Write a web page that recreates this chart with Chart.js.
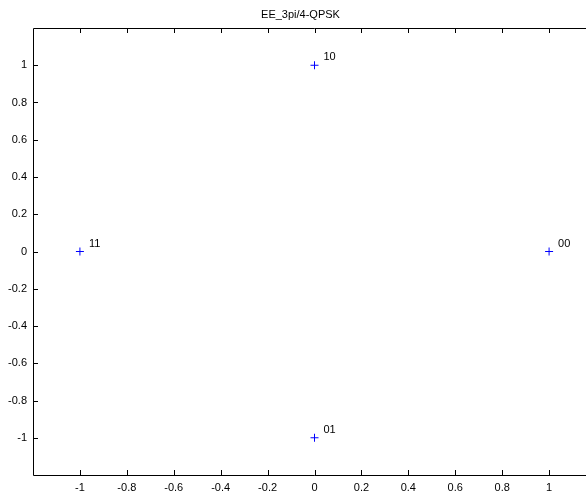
<!DOCTYPE html>
<html>
<head>
<meta charset="utf-8">
<script src="https://cdn.jsdelivr.net/npm/chart.js@4"></script>
<style>
  html, body { margin: 0; padding: 0; background: #fff; overflow: hidden; }
  canvas { display: block; }
</style>
</head>
<body>
<canvas id="myChart" width="601" height="492"></canvas>
<script>
// constellation points
var xs = [1, 0, -1, 0];
var ys = [0, 1, 0, -1];
var symbols = ['00', '10', '11', '01'];
var axisTicks = [-1, -0.8, -0.6, -0.4, -0.2, 0, 0.2, 0.4, 0.6, 0.8, 1];

var font = { family: 'Liberation Sans, Arial, sans-serif', size: 11 };

var points = [];
for (var i = 0; i < xs.length; i++) {
    points.push({ x: xs[i], y: ys[i] });
}

function keepTicks(scale) {
    scale.ticks = axisTicks.map(function (v) { return { value: v }; });
}

// frame, inward ticks and point labels
var framePlugin = {
    id: 'frame',
    afterDraw: function (chart) {
        var c = chart.ctx, a = chart.chartArea;
        var sx = chart.scales.x, sy = chart.scales.y;
        var t = 5;
        c.save();
        c.strokeStyle = '#000';
        c.lineWidth = 1;
        c.beginPath();
        c.moveTo(a.left + 0.5, a.bottom + 0.5);
        c.lineTo(a.left + 0.5, a.top + 0.5);
        c.lineTo(a.right, a.top + 0.5);
        c.moveTo(a.left + 0.5, a.bottom + 0.5);
        c.lineTo(a.right, a.bottom + 0.5);
        axisTicks.forEach(function (v) {
            var px = Math.round(sx.getPixelForValue(v)) + 0.5;
            c.moveTo(px, a.bottom); c.lineTo(px, a.bottom - t);
            c.moveTo(px, a.top); c.lineTo(px, a.top + t);
            var py = Math.round(sy.getPixelForValue(v)) + 0.5;
            c.moveTo(a.left, py); c.lineTo(a.left + t, py);
            c.moveTo(a.right, py); c.lineTo(a.right - t, py);
        });
        c.stroke();
        c.fillStyle = '#000';
        c.font = font.size + 'px ' + font.family;
        c.textBaseline = 'middle';
        c.textAlign = 'left';
        for (var i = 0; i < xs.length; i++) {
            c.fillText(symbols[i], sx.getPixelForValue(xs[i]) + 9, sy.getPixelForValue(ys[i]) - 8);
        }
        c.restore();
    }
};

var ctx = document.getElementById('myChart').getContext('2d');
var chart = new Chart(ctx, {
    type: 'scatter',
    data: {
        datasets: [{
            data: points,
            pointStyle: 'cross',
            pointRadius: 4,
            pointHoverRadius: 4,
            borderColor: '#0000ff',
            backgroundColor: '#0000ff',
            borderWidth: 1
        }]
    },
    options: {
        responsive: false,
        animation: false,
        layout: { padding: 0 },
        plugins: {
            legend: { display: false },
            tooltip: { enabled: false },
            title: {
                display: true,
                text: 'EE_3pi/4-QPSK',
                color: '#000',
                font: { family: font.family, size: 11, weight: 'normal' },
                padding: { top: 8, bottom: 6.8 }
            }
        },
        scales: {
            x: {
                type: 'linear',
                min: -1.2,
                max: 1.2,
                grid: { display: false, drawTicks: false, tickLength: 0 },
                border: { display: false },
                afterBuildTicks: keepTicks,
                afterFit: function (s) { s.height = 17; },
                ticks: { color: '#000', font: font, padding: 6, maxRotation: 0,
                    callback: function (v) { return String(Math.round(v * 10) / 10); } }
            },
            y: {
                type: 'linear',
                min: -1.2,
                max: 1.2,
                grid: { display: false, drawTicks: false, tickLength: 0 },
                border: { display: false },
                afterBuildTicks: keepTicks,
                afterFit: function (s) { s.width = 33; },
                ticks: { color: '#000', font: font, padding: 6,
                    callback: function (v) { return String(Math.round(v * 10) / 10); } }
            }
        }
    },
    plugins: [framePlugin]
});
</script>
</body>
</html>
